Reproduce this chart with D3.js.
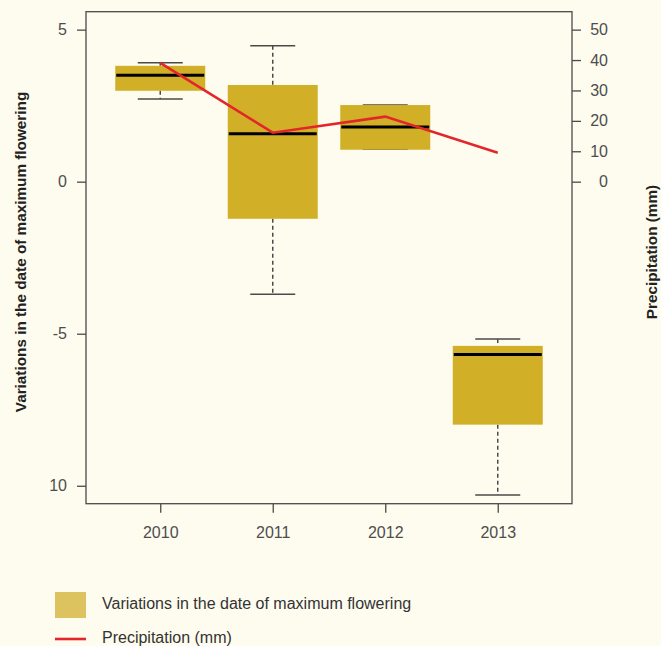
<!DOCTYPE html>
<html>
<head>
<meta charset="utf-8">
<script src="https://cdn.jsdelivr.net/npm/d3@7"></script>
<style>
  html, body { margin: 0; padding: 0; background: #fefcef; }
  svg { display: block; font-family: "Liberation Sans", Helvetica, Arial, sans-serif; }
</style>
</head>
<body>
<svg id="chart" width="661" height="646"></svg>
<script>
// Box statistics for the shift in date of maximum flowering (days), per year
const years = ["2010", "2011", "2012", "2013"];
const whiskerLow  = [2.72, -3.70, 1.07, -10.30];
const q1          = [2.99, -1.22, 1.05, -7.99];
const median      = [3.50,  1.58, 1.80, -5.68];
const q3          = [3.81,  3.18, 2.52, -5.40];
const whiskerHigh = [3.91,  4.47, 2.52, -5.17];

// Yearly precipitation (mm)
const precip = [39.1, 16.1, 21.4, 9.5];

// Axis ticks
const leftTicks = [5, 0, -5, -10];
const leftTickLabels = ["5", "0", "-5", "10"];
const rightTicks = [0, 10, 20, 30, 40, 50];

const svg = d3.select("#chart");
const frame = { left: 86, right: 572, top: 11.7, bottom: 503.7 };

const x = d3.scaleLinear().domain([0.34, 4.66]).range([frame.left, frame.right]);
const y = d3.scaleLinear().domain([-10.59, 5.59]).range([frame.bottom, frame.top]);
const yR = d3.scaleLinear().domain([-105.9, 55.9]).range([frame.bottom, frame.top]);

const boxFill = "#d1af27";
const axisColor = "#4a4a4a";
const labelColor = "#4d4d4d";

// Boxes
const data = years.map((yr, i) => ({
  yr, pos: i + 1,
  lo: whiskerLow[i], q1: q1[i], med: median[i], q3: q3[i], hi: whiskerHigh[i]
}));

const g = svg.append("g");
const boxW = 0.8, capW = 0.4;

data.forEach(d => {
  const cx = x(d.pos);
  // dashed whiskers
  g.append("line")
    .attr("x1", cx).attr("x2", cx)
    .attr("y1", y(d.hi)).attr("y2", y(d.q3))
    .attr("stroke", axisColor).attr("stroke-width", 1.5)
    .attr("stroke-dasharray", "4,3");
  g.append("line")
    .attr("x1", cx).attr("x2", cx)
    .attr("y1", y(d.q1)).attr("y2", y(d.lo))
    .attr("stroke", axisColor).attr("stroke-width", 1.5)
    .attr("stroke-dasharray", "4,3");
  // caps
  [d.hi, d.lo].forEach(v => {
    g.append("line")
      .attr("x1", x(d.pos - capW / 2)).attr("x2", x(d.pos + capW / 2))
      .attr("y1", y(v)).attr("y2", y(v))
      .attr("stroke", axisColor).attr("stroke-width", 1.5);
  });
  // box
  g.append("rect")
    .attr("x", x(d.pos - boxW / 2))
    .attr("width", x(d.pos + boxW / 2) - x(d.pos - boxW / 2))
    .attr("y", y(d.q3))
    .attr("height", y(d.q1) - y(d.q3))
    .attr("fill", boxFill);
  // median
  g.append("line")
    .attr("x1", x(d.pos - boxW / 2) + 1).attr("x2", x(d.pos + boxW / 2) - 1)
    .attr("y1", y(d.med)).attr("y2", y(d.med))
    .attr("stroke", "#000").attr("stroke-width", 3);
});

// Precipitation line on the secondary axis
const line = d3.line()
  .x((d, i) => x(i + 1))
  .y(d => yR(d));
svg.append("path")
  .datum(precip)
  .attr("d", line)
  .attr("fill", "none")
  .attr("stroke", "#e3262b")
  .attr("stroke-width", 2.6);

// Plot frame
svg.append("rect")
  .attr("x", frame.left).attr("y", frame.top)
  .attr("width", frame.right - frame.left)
  .attr("height", frame.bottom - frame.top)
  .attr("fill", "none")
  .attr("stroke", axisColor)
  .attr("stroke-width", 1.3);

function styleAxis(sel) {
  sel.select(".domain").remove();
  sel.attr("font-size", null);
  sel.selectAll(".tick line").attr("stroke", axisColor).attr("stroke-width", 1.3);
  sel.selectAll(".tick text")
    .attr("fill", labelColor)
    .style("font-size", "16px");
}

// Left axis
svg.append("g")
  .attr("transform", `translate(${frame.left},0)`)
  .call(d3.axisLeft(y)
    .tickValues(leftTicks)
    .tickFormat((v, i) => leftTickLabels[i])
    .tickSize(9).tickPadding(10).tickSizeOuter(0))
  .call(styleAxis);

// Right axis
const rAxis = svg.append("g")
  .attr("transform", `translate(${frame.right},0)`)
  .call(d3.axisRight(yR)
    .tickValues(rightTicks)
    .tickFormat(d3.format("d"))
    .tickSize(9).tickSizeOuter(0))
  .call(styleAxis);
rAxis.selectAll(".tick text").attr("text-anchor", "end").attr("x", 36);

// Bottom axis
svg.append("g")
  .attr("transform", `translate(0,${frame.bottom})`)
  .call(d3.axisBottom(x)
    .tickValues(data.map(d => d.pos))
    .tickFormat((v, i) => years[i])
    .tickSize(9).tickPadding(14).tickSizeOuter(0))
  .call(styleAxis);

// Axis titles
svg.append("text")
  .attr("transform", "translate(26,252) rotate(-90)")
  .attr("text-anchor", "middle")
  .style("font-size", "15.3px").style("font-weight", "bold")
  .attr("fill", "#222")
  .text("Variations in the date of maximum flowering");

svg.append("text")
  .attr("transform", "translate(657,252) rotate(-90)")
  .attr("text-anchor", "middle")
  .style("font-size", "15.3px").style("font-weight", "bold")
  .attr("fill", "#222")
  .text("Precipitation (mm)");

// Legend
const lg = svg.append("g");
lg.append("rect")
  .attr("x", 55).attr("y", 592).attr("width", 31).attr("height", 26)
  .attr("fill", "#dcc35f");
lg.append("text")
  .attr("x", 102).attr("y", 603).attr("dy", "0.35em")
  .style("font-size", "16px").attr("fill", "#333")
  .text("Variations in the date of maximum flowering");
lg.append("line")
  .attr("x1", 55).attr("x2", 86).attr("y1", 639).attr("y2", 639)
  .attr("stroke", "#e3262b").attr("stroke-width", 2.6);
lg.append("text")
  .attr("x", 102).attr("y", 637).attr("dy", "0.35em")
  .style("font-size", "16px").attr("fill", "#333")
  .text("Precipitation (mm)");
</script>
</body>
</html>
